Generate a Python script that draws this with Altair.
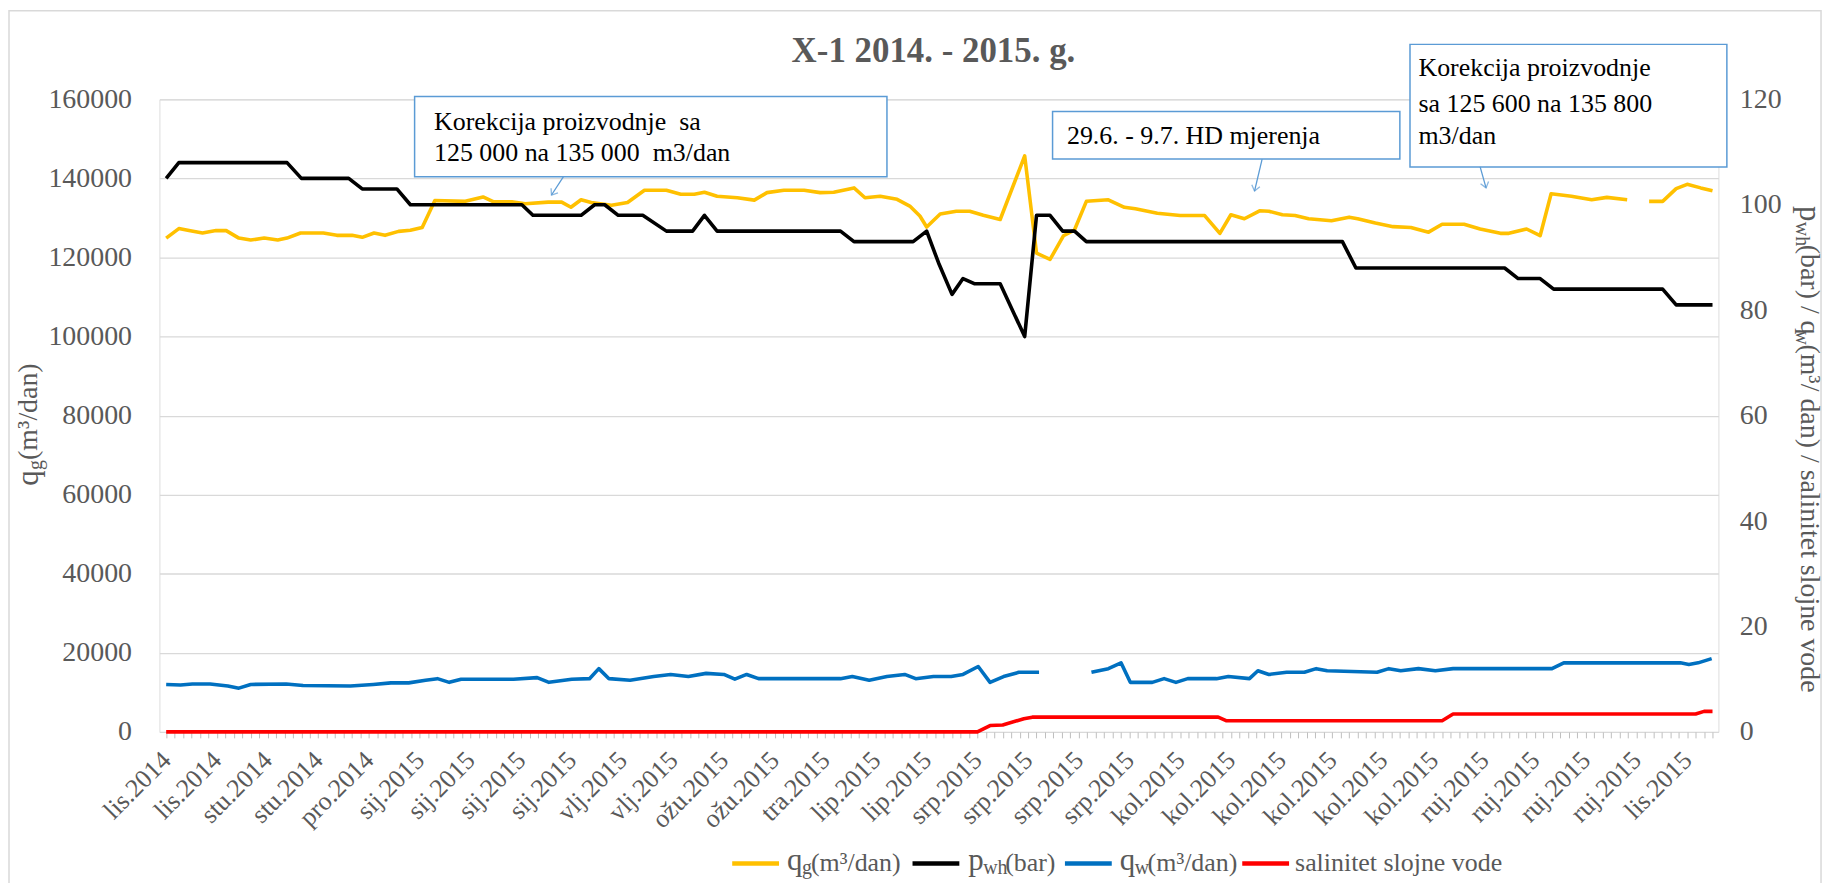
import altair as alt
import pandas as pd

# ---------------- data ----------------
X_LABELS = ["lis.2014", "lis.2014", "stu.2014", "stu.2014", "pro.2014",
            "sij.2015", "sij.2015", "sij.2015", "sij.2015",
            "vlj.2015", "vlj.2015", "ožu.2015", "ožu.2015", "tra.2015",
            "lip.2015", "lip.2015",
            "srp.2015", "srp.2015", "srp.2015", "srp.2015",
            "kol.2015", "kol.2015", "kol.2015", "kol.2015", "kol.2015", "kol.2015",
            "ruj.2015", "ruj.2015", "ruj.2015", "ruj.2015", "lis.2015"]
LABEL_STEP = 6
N_POINTS = 184

# q_g (m3/dan) - left axis
QG_X_1 = [0, 1.5, 2.7, 4.3, 5.9, 7.1, 8.6, 10, 11.6, 13.2, 14.3, 15.9, 18.6, 20.2, 22, 23.2, 24.6, 25.9, 27.5, 28.9,
          30.3, 31.8, 35.4, 37.5, 38.7, 40.9, 42.5, 45.2, 46.8, 47.9, 49.1, 50.3, 52.7, 54.6, 56.6, 59.2, 60.9, 62.5, 63.7, 65.2,
          67.6, 69.6, 71.1, 73.1, 75.5, 77.4, 79.0, 81.4, 82.7, 84.5, 86.5, 88.0, 89.2, 90.0, 91.6, 93.5, 95.1, 96.7, 98.7, 101.6,
          103.0, 104.6, 106.2, 107.5, 108.9, 111.5, 113.4, 114.7, 117.3, 120.0, 122.9, 124.7, 126.0, 127.6, 129.4, 130.5, 132.1, 133.6, 135.2, 137.9,
          140.0, 141.0, 143.1, 145.2, 147.3, 149.4, 151.0, 153.6, 155.5, 157.9, 158.9, 161.0, 162.6, 163.9, 166.3, 168.7, 170.5, 172.9]
QG_Y_1 = [124900, 127300, 126800, 126200, 126800, 126800, 124900, 124400, 124900, 124400, 124900, 126200, 126200, 125600, 125600, 125100, 126200, 125600, 126600, 126900,
          127600, 134400, 134200, 135300, 134100, 134100, 133600, 134000, 134000, 132700, 134600, 133900, 133200, 133900, 137000, 137000, 136000, 136000, 136500, 135500,
          135100, 134500, 136400, 137000, 137000, 136400, 136500, 137600, 135100, 135500, 134700, 133000, 130500, 127700, 131000, 131700, 131700, 130700, 129600, 145700,
          121100, 119500, 125500, 127000, 134200, 134600, 132700, 132300, 131200, 130600, 130600, 126100, 130800, 129800, 131800, 131700, 130800, 130600, 129800, 129300,
          130200, 129800, 128700, 127800, 127600, 126400, 128400, 128400, 127200, 126100, 126100, 127200, 125500, 136100, 135500, 134600, 135200, 134600]
QG_X_2 = [175.5, 177.1, 178.7, 180.0, 181.6, 183.0]
QG_Y_2 = [134200, 134200, 137400, 138500, 137600, 136900]

# p_wh (bar) - right axis
PWH_X = [0, 1.5, 14.3, 16.0, 21.6, 23.2, 27.3, 28.9, 42.1, 43.4, 49.1, 50.7, 51.9, 53.5, 56.4, 59.2, 62.3, 63.7, 65.2, 79.8,
         81.4, 88.4, 90.0, 91.4, 93.0, 94.3, 95.7, 98.7, 101.6, 103.0, 104.6, 106.1, 107.5, 108.9, 139.2, 140.8, 158.4, 160.0, 162.6, 164.2,
         177.1, 178.7, 183.0]
PWH_Y = [105, 108, 108, 105, 105, 103, 103, 100, 100, 98, 98, 100, 100, 98, 98, 95, 95, 98, 95, 95,
         93, 93, 95, 89, 83, 86, 85, 85, 75, 98, 98, 95, 95, 93, 93, 88, 88, 86, 86, 84,
         84, 81, 81]

# q_w (m3/dan) - right axis
QW_X_1 = [0, 1.7, 3.1, 5.2, 7.3, 8.6, 10, 14.2, 16.2, 21.8, 24.5, 26.6, 28.7, 30.7, 32.1, 33.5, 34.9, 41.1, 43.9, 45.3,
          48, 50.1, 51.2, 52.4, 54.9, 57.7, 59.7, 61.8, 63.9, 66, 67.3, 68.7, 70.1, 79.8, 81.2, 83.2, 85.3, 87.4, 88.7, 90.8,
          92.9, 94.3, 96.1, 97.5, 99.1, 100.9, 103.3]
QW_Y_1 = [9.0, 8.9, 9.1, 9.1, 8.7, 8.3, 9.0, 9.1, 8.8, 8.7, 9.0, 9.3, 9.3, 9.8, 10.1, 9.4, 10.0, 10.0, 10.3, 9.4,
          10.0, 10.1, 12.0, 10.1, 9.8, 10.5, 10.9, 10.5, 11.1, 10.9, 10.0, 10.9, 10.1, 10.1, 10.5, 9.8, 10.5, 10.9, 10.1, 10.5,
          10.5, 10.9, 12.4, 9.4, 10.5, 11.3, 11.3]
QW_X_2 = [109.5, 111.5, 113, 114.1, 116.7, 118.1, 119.5, 120.9, 124.3, 125.7, 128.2, 129.2, 130.5, 132.6, 134.7, 136.1, 137.4, 143.3, 144.7, 146.1,
          148.2, 150.2, 152.3, 164, 165.4, 179.2, 180.2, 181.3, 182.9]
QW_Y_2 = [11.3, 12.0, 13.1, 9.4, 9.4, 10.1, 9.4, 10.1, 10.1, 10.5, 10.1, 11.6, 10.9, 11.3, 11.3, 12.0, 11.6, 11.3, 12.0, 11.6,
          12.0, 11.6, 12.0, 12.0, 13.1, 13.1, 12.8, 13.1, 13.9]

# salinitet slojne vode - right axis
SAL_X = [0, 96.0, 97.5, 99.0, 101.5, 102.5, 124.5, 125.5, 151.0, 152.3, 181.0, 182.0, 183.0]
SAL_Y = [0, 0, 1.2, 1.3, 2.5, 2.8, 2.8, 2.1, 2.1, 3.4, 3.4, 3.9, 3.9]

# annotations (data coordinates: index, left-axis value)
BOX_X1 = [29.4, 104.9, 147.2]
BOX_X2 = [85.3, 146.0, 184.7]
BOX_TOP = [160700, 156900, 173900]
BOX_BOTTOM = [140400, 144900, 142900]
NOTE_X = [31.7, 31.7, 106.6, 148.2, 148.2, 148.2]
NOTE_Y = [154300, 146400, 150800, 167800, 158900, 150800]
NOTE_TEXT = ["Korekcija proizvodnje \u00a0sa", "125 000 na 135 000 \u00a0m3/dan", "29.6. - 9.7. HD mjerenja",
             "Korekcija proizvodnje", "sa 125 600 na 135 800", "m3/dan"]
ARROW_X1 = [47.0, 129.7, 155.5]
ARROW_X2 = [45.6, 128.8, 156.2]
ARROW_Y1 = [140400, 144900, 142900]
ARROW_Y2 = [135800, 136800, 137600]
ARROW_ANGLE = [34, 14, 344]

# ---------------- styles ----------------
FONT = "Liberation Serif, Times New Roman, DejaVu Serif, serif"
GRAY = "#595959"
GRID = "#D9D9D9"
BOXC = "#5B9BD5"
SERIES = ["qg", "pwh", "qw", "sal"]
COLORS = ["#FFC000", "#000000", "#0070C0", "#FF0000"]
W, H = 1565, 635
PAD_L, PAD_T, PAD_R, PAD_B = 152, 90, 110, 150
XDOM = [-0.8, 183.7]


def frame(xs, ys, series, seg):
    return pd.DataFrame({"idx": xs, "val": ys, "series": series, "seg": seg})


left_df = pd.concat([frame(QG_X_1, QG_Y_1, "qg", "a"), frame(QG_X_2, QG_Y_2, "qg", "b")])
right_df = pd.concat([frame(PWH_X, PWH_Y, "pwh", "a"),
                      frame(QW_X_1, QW_Y_1, "qw", "a"), frame(QW_X_2, QW_Y_2, "qw", "b"),
                      frame(SAL_X, SAL_Y, "sal", "a")])

labels_js = "[" + ",".join("'" + s + "'" for s in X_LABELS) + "]"
label_expr = (f"datum.value % {LABEL_STEP} == 0 && datum.value / {LABEL_STEP} < {len(X_LABELS)}"
              f" ? {labels_js}[datum.value / {LABEL_STEP}] : ''")

x_axis = alt.Axis(values=list(range(N_POINTS)), labelExpr=label_expr, labelAngle=315,
                  labelAlign="right", labelBaseline="middle", labelFont=FONT, labelFontSize=26,
                  labelColor=GRAY, labelOverlap=False, labelPadding=18, labelFlush=False,
                  tickSize=6, tickColor="#BFBFBF", tickWidth=1, domain=False, grid=False, title=None)
xscale = alt.Scale(domain=XDOM, nice=False, zero=False)
X = alt.X("idx:Q", scale=xscale, axis=x_axis)

left_axis = alt.Axis(values=list(range(0, 160001, 20000)), format="d", labelFont=FONT, labelFontSize=28,
                     labelColor=GRAY, grid=True, gridColor=GRID, gridWidth=1.3, domain=False, ticks=False,
                     labelPadding=28, title=None)
right_axis = alt.Axis(values=list(range(0, 121, 20)), orient="right", labelFont=FONT, labelFontSize=28,
                      labelColor=GRAY, grid=False, domain=False, ticks=False, labelPadding=21, title=None)
color = alt.Color("series:N", scale=alt.Scale(domain=SERIES, range=COLORS), legend=None)

left_lines = alt.Chart(left_df).mark_line(strokeWidth=3.6, strokeJoin="round").encode(
    x=X, y=alt.Y("val:Q", scale=alt.Scale(domain=[0, 160000], nice=False), axis=left_axis),
    color=color, detail="seg:N")

right_lines = alt.Chart(right_df).mark_line(strokeWidth=3.6, strokeJoin="round").encode(
    x=X, y=alt.Y("val:Q", scale=alt.Scale(domain=[0, 120], nice=False), axis=right_axis),
    color=color, detail="seg:N")

# annotations layer
ann_scale = alt.Scale(domain=[0, 160000], nice=False)
box_df = pd.DataFrame({"x1": BOX_X1, "x2": BOX_X2, "top": BOX_TOP, "bottom": BOX_BOTTOM})
boxes = alt.Chart(box_df).mark_rect(fill="white", stroke=BOXC, strokeWidth=1.5).encode(
    x=alt.X("x1:Q", scale=xscale, axis=x_axis), x2="x2:Q",
    y=alt.Y("top:Q", scale=ann_scale, axis=None), y2="bottom:Q")
note_df = pd.DataFrame({"x": NOTE_X, "y": NOTE_Y, "t": NOTE_TEXT})
notes = alt.Chart(note_df).mark_text(font=FONT, fontSize=26, color="#000000", align="left",
                                     baseline="middle").encode(
    x=alt.X("x:Q", scale=xscale, axis=x_axis),
    y=alt.Y("y:Q", scale=ann_scale, axis=None), text="t:N")
arrow_df = pd.DataFrame({"x1": ARROW_X1, "x2": ARROW_X2, "y1": ARROW_Y1, "y2": ARROW_Y2, "a": ARROW_ANGLE})
arrows = alt.Chart(arrow_df).mark_rule(color=BOXC, strokeWidth=1.3).encode(
    x=alt.X("x1:Q", scale=xscale, axis=x_axis), x2="x2:Q",
    y=alt.Y("y1:Q", scale=ann_scale, axis=None), y2="y2:Q")
heads = alt.Chart(arrow_df).mark_point(shape="M -1 -1.3 L 0 0 L 1 -1.3", filled=False, size=70,
                                       color=BOXC, strokeWidth=1.3).encode(
    x=alt.X("x2:Q", scale=xscale, axis=x_axis),
    y=alt.Y("y2:Q", scale=ann_scale, axis=None), angle=alt.Angle("a:Q", scale=None))
annotations = alt.layer(boxes, arrows, heads, notes)

one = pd.DataFrame({"k": [0]})


def txt(text, x, y, size, angle=0, color=GRAY, weight="normal", align="left"):
    return alt.Chart(one).mark_text(text=text, font=FONT, fontSize=size, angle=angle, color=color,
                                    fontWeight=weight, align=align, baseline="middle").encode(
        x=alt.value(x), y=alt.value(y))


def swatch(c, x1, x2, y):
    return alt.Chart(one).mark_rule(color=c, strokeWidth=4.5).encode(
        x=alt.value(x1), x2=alt.value(x2), y=alt.value(y))


OX, OY = 160, 98  # page position of plot origin
decor = []
# outer frame
decor.append(alt.Chart(one).mark_rect(fill=None, stroke=GRID, strokeWidth=1.5).encode(
    x=alt.value(9 - OX), x2=alt.value(1828 - OX), y=alt.value(9 - OY), y2=alt.value(900 - OY)))
# title
decor.append(txt("X-1 2014. - 2015. g.", 937 - OX, 50 - OY, 35, weight="bold", align="center"))
# left axis title (reads bottom to top)
decor += [txt("q", 29 - OX, 486 - OY, 31, angle=270),
          txt("g", 36 - OX, 470 - OY, 20, angle=270),
          txt(" (m³/dan)", 29 - OX, 460 - OY, 28, angle=270)]
# right axis title (reads top to bottom)
RX = 1816 - OX
decor += [txt("p", RX, 205 - OY, 31, angle=90),
          txt("wh", RX - 7, 221 - OY, 20, angle=90),
          txt("(bar) / q", RX, 244 - OY, 28, angle=90),
          txt("w", RX - 7, 330 - OY, 20, angle=90),
          txt(" (m³/ dan) / salinitet slojne vode", RX, 344 - OY, 28, angle=90)]
# legend
LY = 865 - OY
decor += [swatch(COLORS[0], 735 - OX, 782 - OX, LY), txt("q", 790 - OX, LY - 2, 31),
          txt("g", 805 - OX, LY + 5, 20), txt(" (m³/dan)", 814 - OX, LY, 26),
          swatch(COLORS[1], 916 - OX, 963 - OX, LY), txt("p", 972 - OX, LY - 2, 31),
          txt("wh", 987 - OX, LY + 5, 20), txt("(bar)", 1009 - OX, LY, 26),
          swatch(COLORS[2], 1069 - OX, 1116 - OX, LY), txt("q", 1124 - OX, LY - 2, 31),
          txt("w", 1139 - OX, LY + 5, 20), txt(" (m³/dan)", 1152 - OX, LY, 26),
          swatch(COLORS[3], 1247 - OX, 1294 - OX, LY), txt("salinitet slojne vode", 1300 - OX, LY, 26)]

chart = alt.layer(left_lines, right_lines, annotations, *decor).resolve_scale(
    y="independent"
).properties(
    width=W, height=H,
    autosize=alt.AutoSizeParams(type="none"),
    padding={"left": PAD_L, "top": PAD_T, "right": PAD_R, "bottom": PAD_B},
).configure_view(stroke=None).configure(background="white")

chart.save("out.html", embed_options={"renderer": "svg", "actions": False})
